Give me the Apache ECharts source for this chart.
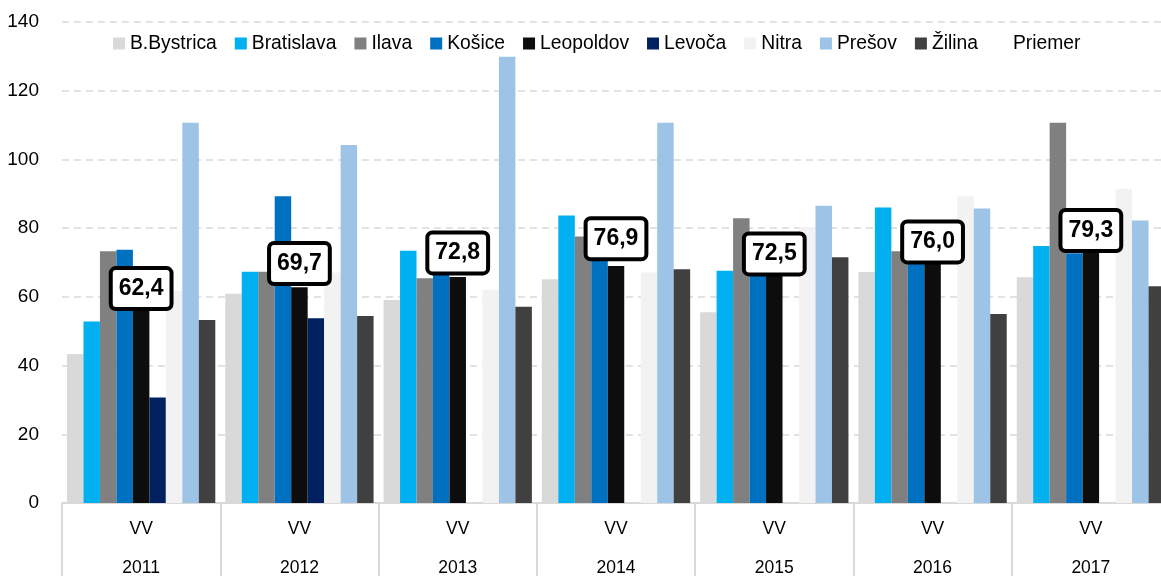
<!DOCTYPE html>
<html>
<head>
<meta charset="utf-8">
<script src="https://cdn.jsdelivr.net/npm/echarts@6/dist/echarts.min.js"></script>
<style>
  html, body { margin: 0; padding: 0; background: #fff; }
  #chart { width: 1161px; height: 576px; }
</style>
</head>
<body>
<div id="chart"></div>
<script>
const years = ['2011', '2012', '2013', '2014', '2015', '2016', '2017']
const yTicks = [0, 20, 40, 60, 80, 100, 120, 140]

// hodnoty podla ustavov
const bBystrica  = [43.4, 60.9, 59.1, 65.1, 55.5, 67.2, 65.7]
const bratislava = [52.8, 67.3, 73.4, 83.7, 67.6, 86.0, 74.8]
const ilava      = [73.3, 67.3, 65.4, 77.6, 82.9, 73.3, 110.7]
const kosice     = [73.7, 89.3, 68.0, 72.0, 68.0, 71.0, 72.7]
const leopoldov  = [60.0, 62.8, 65.8, 69.0, 69.0, 72.0, 75.0]
const levoca     = [30.7, 53.8, null, null, null, null, null]
const nitra      = [61.8, 67.1, 62.1, 67.1, 80.3, 89.3, 91.5]
const presov     = [110.7, 104.2, 129.9, 110.7, 86.5, 85.7, 82.2]
const zilina     = [53.3, 54.4, 57.1, 68.0, 71.5, 55.0, 63.1]
const priemer    = [62.4, 69.7, 72.8, 76.9, 72.5, 76.0, 79.3]

const font = '"Liberation Sans", Arial, sans-serif'

const bars = [
  ['B.Bystrica', bBystrica, '#d9d9d9'],
  ['Bratislava', bratislava, '#00b0f0'],
  ['Ilava', ilava, '#808080'],
  ['Košice', kosice, '#0070c0'],
  ['Leopoldov', leopoldov, '#0d0d0d'],
  ['Levoča', levoca, '#002060'],
  ['Nitra', nitra, '#f2f2f2'],
  ['Prešov', presov, '#9dc3e6'],
  ['Žilina', zilina, '#404040']
]

const series = bars.map(([name, data, color]) => ({
  name: name,
  type: 'bar',
  barGap: 0,
  barCategoryGap: '6.3%',
  itemStyle: { color: color },
  data: data
}))

// priemer - len ramceky s hodnotou
series.push({
  name: 'Priemer',
  type: 'scatter',
  z: 10,
  symbolSize: 1,
  itemStyle: { color: 'rgba(0,0,0,0)', opacity: 1 },
  label: {
    show: true,
    position: 'inside',
    formatter: p => p.value.toFixed(1).replace('.', ','),
    fontFamily: font,
    fontSize: 23,
    fontWeight: 'bold',
    color: '#000',
    opacity: 1,
    textBorderWidth: 0,
    lineHeight: 30,
    backgroundColor: '#fff',
    borderColor: '#000',
    borderWidth: 4,
    borderRadius: 3,
    padding: [4, 6, 3, 6]
  },
  data: priemer
})

const legendData = bars.map(b => b[0])
legendData.push({ name: 'Priemer', itemStyle: { opacity: 0 } })

const option = {
  animation: false,
  legend: {
    left: 113,
    top: 34,
    padding: 0,
    icon: 'rect',
    itemWidth: 12,
    itemHeight: 12,
    itemGap: 18,
    textStyle: { fontFamily: font, fontSize: 19.3, color: '#000' },
    data: legendData
  },
  grid: {
    left: 62,
    right: -9,
    top: 22,
    bottom: 73,
    outerBoundsMode: 'none'
  },
  xAxis: {
    type: 'category',
    data: years,
    axisLine: { show: true, lineStyle: { color: '#d9d9d9', width: 2 } },
    axisTick: { show: true, length: 73, lineStyle: { color: '#d9d9d9', width: 2 } },
    axisLabel: {
      margin: 7,
      fontFamily: font,
      fontSize: 17.5,
      lineHeight: 39,
      color: '#000',
      formatter: v => 'VV\n' + v
    }
  },
  yAxis: {
    type: 'value',
    min: yTicks[0],
    max: yTicks[yTicks.length - 1],
    interval: 20,
    axisLine: { show: false },
    axisTick: { show: false },
    axisLabel: {
      margin: 23,
      fontFamily: font,
      fontSize: 19,
      color: '#000'
    },
    splitLine: {
      lineStyle: { color: '#d9d9d9', width: 1.5, type: [7, 5] }
    }
  },
  series: series
}

const myChart = echarts.init(document.getElementById('chart'))
myChart.setOption(option)
</script>
</body>
</html>
